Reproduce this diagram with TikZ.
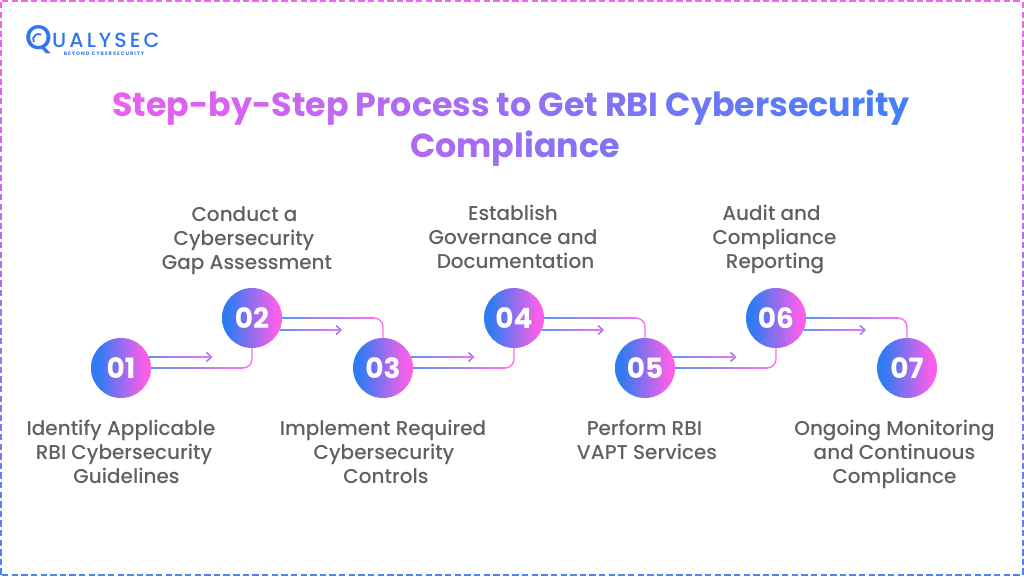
\documentclass[tikz,border=0pt]{standalone}
\usepackage{fontspec}
\usepackage{xcolor}
\usetikzlibrary{calc,arrows.meta}
\setmainfont{Poppins}
\newfontfamily\medfont{Poppins Medium}
\definecolor{gpink}{HTML}{FA5FEA}
\definecolor{gblue}{HTML}{2F7BF3}
\definecolor{lpink}{HTML}{FB70EE}
\definecolor{tpink}{HTML}{EC5FF0}
\definecolor{tblue}{HTML}{4280F8}
\definecolor{bpink}{HTML}{F562EE}
\definecolor{bblue}{HTML}{4C83F8}
\definecolor{labelgrey}{HTML}{606060}
\definecolor{logoblue}{HTML}{2F75F2}
\definecolor{headcol}{HTML}{8A6FF0}
\ExplSyntaxOn
\int_new:N \l_grad_i_int
\fp_new:N \l_grad_p_fp
\NewDocumentCommand{\gradtext}{mmm}{
  \int_zero:N \l_grad_i_int
  \str_map_inline:nn {#3}{
    \int_incr:N \l_grad_i_int
    \fp_set:Nn \l_grad_p_fp { #1 + (#2 - #1) * (\l_grad_i_int - 1) / (\str_count:n {#3} - 1) }
    \textcolor{tblue!\fp_eval:n {round(\l_grad_p_fp,1)}!tpink}{\relax ##1}
  }
}
\ExplSyntaxOff
\pgfdeclarehorizontalshading{circgrad}{100bp}{color(0bp)=(gblue); color(30bp)=(gblue); color(70bp)=(gpink); color(100bp)=(gpink)}
\newcommand{\sh}[1]{\hspace*{#1}}
\tikzset{
  stepnum/.style={circle,minimum size=60pt,inner sep=0pt,shading=circgrad,text=white,font=\fontsize{28}{28}\selectfont\bfseries},
  steplabel/.style={align=center,text=labelgrey,inner sep=0pt,font=\fontsize{20}{24}\selectfont\medfont},
  conn/.style={draw=lpink,line width=1.4pt,rounded corners=9pt},
  arrowln/.style={draw=headcol,line width=1.4pt,-{Straight Barb[length=5pt,width=9pt,line width=1.3pt]}},
  gradbar/.style={left color=gblue!80!white,right color=lpink}
}
\newcommand{\linkup}[2]{%
  \draw[conn] (#1.east) -| (#2.south);
  \shade[gradbar] ($(#1.east)+(0,-0.8)$) rectangle ($(#1.east -| #2.south)+(-9,0.8)$);}
\newcommand{\linkdown}[2]{%
  \draw[conn] (#1.east) -| (#2.north);
  \shade[gradbar] ($(#1.east)+(0,-0.8)$) rectangle ($(#1.east -| #2.north)+(-9,0.8)$);}
\begin{document}
\begin{tikzpicture}[x=1pt,y=-1pt]
\useasboundingbox (0,0) rectangle (1024,576);
\fill[white] (0,0) rectangle (1024,576);
% dashed border
\foreach \k in {0,...,105} {
  \pgfmathsetmacro{\xa}{2+\k*9.63}
  \draw[bpink,line width=2pt] (\xa,1.2) -- (\xa+6.4,1.2);
  \draw[bblue,line width=2pt] (\xa,574.8) -- (\xa+6.4,574.8);
}
\foreach \k in {0,...,59} {
  \pgfmathsetmacro{\ya}{2+\k*9.6}
  \pgfmathtruncatemacro{\pp}{\ya/5.76}
  \draw[bblue!\pp!bpink,line width=2pt] (1.2,\ya) -- (1.2,\ya+6.4);
  \draw[bblue!\pp!bpink,line width=2pt] (1022.6,\ya) -- (1022.6,\ya+6.4);
}
% logo
\node[text=logoblue,inner sep=0pt,anchor=center,font=\fontsize{34}{34}\selectfont\medfont] (logoq) at (38.5,39.5) {Q};
\draw[logoblue,line width=1.8pt] (38.5,39.5) ++(150:5.5) arc[start angle=150,end angle=300,radius=5.5];
\node[text=logoblue,inner sep=0pt,anchor=west,font=\fontsize{20.5}{20.5}\selectfont\medfont\addfontfeature{LetterSpace=15}] (logot) at (52,40) {UALYSEC};
\node[text=logoblue,inner sep=0pt,font=\fontsize{5}{5}\selectfont\bfseries\addfontfeature{LetterSpace=20}] (logos) at (104,54) {BEYOND CYBERSECURITY};
% title
\node[inner sep=0pt,font=\fontsize{33.3}{33.3}\selectfont\bfseries] (t1) at (511,107.5) {\gradtext{0}{100}{Step-by-Step Process to Get RBI Cybersecurity}};
\node[inner sep=0pt,font=\fontsize{33.3}{33.3}\selectfont\bfseries] (t2) at (515,148.5) {\gradtext{37}{64}{Compliance}};
% steps
\node[stepnum] (n1) at (121,368) {01};
\node[stepnum] (n2) at (252,318) {02};
\node[stepnum] (n3) at (383,368) {03};
\node[stepnum] (n4) at (514,318) {04};
\node[stepnum] (n5) at (645,368) {05};
\node[stepnum] (n6) at (776,318) {06};
\node[stepnum] (n7) at (907,368) {07};
% arrows
\foreach \a/\dy/\dx/\len in {n1/-11/27.9/63.5,n2/12/27.5/62.5,n3/-11/27.9/63.5,n4/12/27.5/62.5,n5/-11/27.9/63.5,n6/12/27.5/62.5} {
  \coordinate (\a s) at ($(\a.center)+(\dx,\dy)$);
  \coordinate (\a e) at ($(\a s)+(\len,0)$);
  \draw[arrowln] (\a s) -- (\a e);
  \shade[gradbar] ($(\a s)+(0,-0.7)$) rectangle ($(\a e)+(-1.5,0.7)$);
}
% connectors
\linkup{n1}{n2}
\linkdown{n2}{n3}
\linkup{n3}{n4}
\linkdown{n4}{n5}
\linkup{n5}{n6}
\linkdown{n6}{n7}
% labels
\node[steplabel] (l1) at (121,452) {Identify Applicable\\\sh{6pt}RBI Cybersecurity\\\sh{11pt}Guidelines};
\node[steplabel] (l2) at (247,241) {\sh{-5pt}Conduct a\\\sh{-6pt}Cybersecurity\\Gap Assessment};
\node[steplabel] (l3) at (383,452) {Implement Required\\\sh{2pt}Cybersecurity\\\sh{6pt}Controls};
\node[steplabel] (l4) at (513,237) {Establish\\Governance and\\\sh{5pt}Documentation};
\node[steplabel] (l5) at (647,440) {\sh{-5pt}Perform RBI\\VAPT Services};
\node[steplabel] (l6) at (774.5,240) {\sh{-6pt}Audit and\\Compliance\\\sh{1pt}Reporting};
\node[steplabel] (l7) at (894.5,454) {Ongoing Monitoring\\and Continuous\\Compliance};
\end{tikzpicture}
\end{document}
